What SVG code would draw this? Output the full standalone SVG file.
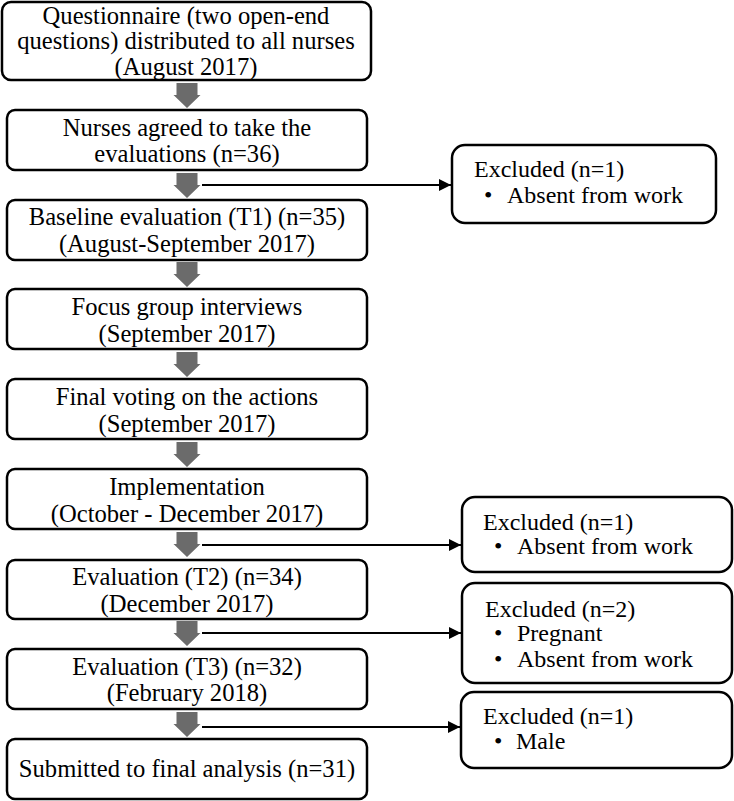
<svg xmlns="http://www.w3.org/2000/svg" width="734" height="801" viewBox="0 0 734 801">
<defs>
<style>
.box{fill:#fff;stroke:#000;stroke-width:2.5}
.t{font-family:"Liberation Serif","DejaVu Serif","Times New Roman",serif;font-size:24px;fill:#000}
.c{text-anchor:middle;font-size:24.6px}
.blk{fill:#6b6b6b}
.ln{stroke:#000;stroke-width:2;fill:none}
</style>
<marker id="ah" viewBox="0 0 12 12" refX="12" refY="6" markerWidth="12" markerHeight="12" orient="auto" markerUnits="userSpaceOnUse">
<path d="M0,0 L12,6 L0,12 z" fill="#000"/>
</marker>
<path id="blk" d="M-10.5,0 H10.5 V12 H13.5 L0,25 L-13.5,12 H-10.5 Z"/>
</defs>
<rect width="734" height="801" fill="#fff"/>

<g id="n1"><rect class="box" x="2" y="2" width="369" height="78" rx="9"/>
<text class="t c" x="186" y="24">Questionnaire (two open-end</text>
<text class="t c" x="186" y="49">questions) distributed to all nurses</text>
<text class="t c" x="186" y="75">(August 2017)</text></g>

<g id="n2"><rect class="box" x="7" y="110" width="360" height="60" rx="8"/>
<text class="t c" x="187" y="136">Nurses agreed to take the</text>
<text class="t c" x="187" y="162">evaluations (n=36)</text></g>

<g id="n3"><rect class="box" x="7" y="200" width="360" height="60" rx="8"/>
<text class="t c" x="187" y="225">Baseline evaluation (T1) (n=35)</text>
<text class="t c" x="187" y="252">(August-September 2017)</text></g>

<g id="n4"><rect class="box" x="7" y="289" width="360" height="60" rx="8"/>
<text class="t c" x="187" y="315">Focus group interviews</text>
<text class="t c" x="187" y="342">(September 2017)</text></g>

<g id="n5"><rect class="box" x="7" y="379" width="360" height="60" rx="8"/>
<text class="t c" x="187" y="405">Final voting on the actions</text>
<text class="t c" x="187" y="432">(September 2017)</text></g>

<g id="n6"><rect class="box" x="7" y="469" width="360" height="60" rx="8"/>
<text class="t c" x="187" y="495">Implementation</text>
<text class="t c" x="187" y="522">(October - December 2017)</text></g>

<g id="n7"><rect class="box" x="7" y="560" width="360" height="59" rx="8"/>
<text class="t c" x="187" y="585">Evaluation (T2) (n=34)</text>
<text class="t c" x="187" y="612">(December 2017)</text></g>

<g id="n8"><rect class="box" x="7" y="649" width="360" height="60" rx="8"/>
<text class="t c" x="187" y="675">Evaluation (T3) (n=32)</text>
<text class="t c" x="187" y="701">(February 2018)</text></g>

<g id="n9"><rect class="box" x="7" y="739" width="360" height="60" rx="8"/>
<text class="t c" x="187" y="777">Submitted to final analysis (n=31)</text></g>

<g id="r1"><rect class="box" x="452" y="145" width="264" height="78" rx="13"/>
<text class="t" x="474" y="177">Excluded (n=1)</text>
<text class="t" x="484" y="203">•<tspan x="507">Absent from work</tspan></text></g>

<g id="r2"><rect class="box" x="462" y="497" width="270" height="75" rx="13"/>
<text class="t" x="483" y="530">Excluded (n=1)</text>
<text class="t" x="494" y="554">•<tspan x="517">Absent from work</tspan></text></g>

<g id="r3"><rect class="box" x="462" y="583" width="270" height="100" rx="13"/>
<text class="t" x="485" y="617">Excluded (n=2)</text>
<text class="t" x="494" y="641">•<tspan x="517">Pregnant</tspan></text>
<text class="t" x="494" y="667">•<tspan x="517">Absent from work</tspan></text></g>

<g id="r4"><rect class="box" x="461" y="692" width="271" height="76" rx="13"/>
<text class="t" x="483" y="724">Excluded (n=1)</text>
<text class="t" x="494" y="749">•<tspan x="516">Male</tspan></text></g>

<g id="connectors">
<use href="#blk" class="blk" x="187" y="83"/>
<use href="#blk" class="blk" x="187" y="173"/>
<use href="#blk" class="blk" x="187" y="262"/>
<use href="#blk" class="blk" x="187" y="352"/>
<use href="#blk" class="blk" x="187" y="442"/>
<use href="#blk" class="blk" x="187" y="532"/>
<use href="#blk" class="blk" x="187" y="621"/>
<use href="#blk" class="blk" x="187" y="712"/>
<line class="ln" x1="202" y1="185" x2="451" y2="185" marker-end="url(#ah)"/>
<line class="ln" x1="202" y1="545" x2="461" y2="545" marker-end="url(#ah)"/>
<line class="ln" x1="202" y1="633" x2="461" y2="633" marker-end="url(#ah)"/>
<line class="ln" x1="202" y1="727" x2="460" y2="727" marker-end="url(#ah)"/>
</g>
</svg>
